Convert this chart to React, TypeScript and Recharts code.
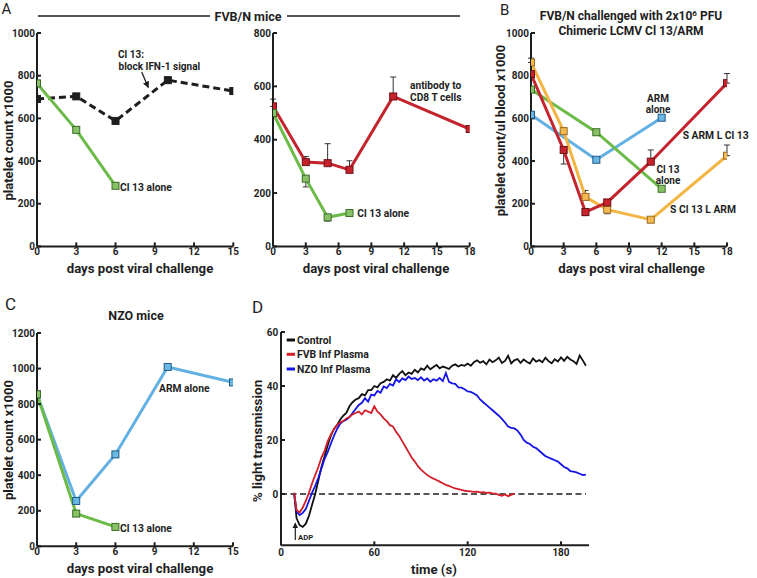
import React from 'react';
import { LineChart, Line, XAxis, YAxis, ErrorBar, ReferenceLine } from 'recharts';

const FONT = 'Roboto, "Liberation Sans", Arial, sans-serif';
const INK = '#1e1e1e';

// ---------- Panel A (left): FVB/N, Cl 13 with IFN-1 block vs Cl 13 alone ----------
const aLeftBlockDays = [0, 3, 6, 10, 15];
const aLeftBlockCounts = [691, 703, 588, 779, 728];
const aLeftCl13Days = [0, 3, 6];
const aLeftCl13Counts = [764, 546, 284];
const aLeftXTicks = [0, 3, 6, 9, 12, 15];
const aLeftYTicks = [0, 200, 400, 600, 800, 1000];

// ---------- Panel A (right): antibody to CD8 T cells vs Cl 13 alone ----------
const aRightCd8Days = [0, 3, 5, 7, 11, 18];
const aRightCd8Counts = [525, 316, 312, 287, 562, 440];
const aRightCd8ErrUp = [27, 21, 73, 34, 73, null];
const aRightCl13Days = [0, 3, 5, 7];
const aRightCl13Counts = [500, 254, 109, 125];
const aRightCl13ErrDown = [null, 31, 14, null];
const aRightXTicks = [0, 3, 6, 9, 12, 15, 18];
const aRightYTicks = [0, 200, 400, 600, 800];

// ---------- Panel B: chimeric LCMV ----------
const bArmDays = [0, 6, 12];
const bArmCounts = [617, 406, 603];
const bCl13Days = [0, 6, 12];
const bCl13Counts = [735, 535, 270];
const bSArmDays = [0, 3, 5, 7, 11, 18];
const bSArmCounts = [808, 452, 161, 206, 397, 765];
const bSArmErrUp = [null, 0, 0, null, 55, 45];
const bSArmErrDown = [null, 66, 17, null, 0, 0];
const bSCl13Days = [0, 3, 5, 7, 11, 18];
const bSCl13Counts = [862, 540, 232, 172, 125, 425];
const bSCl13ErrUp = [20, 15, 30, 0, null, 50];
const bSCl13ErrDown = [0, 0, 0, 19, null, 0];
const bXTicks = [0, 3, 6, 9, 12, 15, 18];
const bYTicks = [0, 200, 400, 600, 800, 1000];

// ---------- Panel C: NZO mice ----------
const cArmDays = [0, 3, 6, 10, 15];
const cArmCounts = [855, 255, 517, 1009, 922];
const cCl13Days = [0, 3, 6];
const cCl13Counts = [855, 184, 109];
const cXTicks = [0, 3, 6, 9, 12, 15];
const cYTicks = [0, 200, 400, 600, 800, 1000, 1200];

// ---------- Panel D: aggregometry ----------
const dTimes = [
  8.5, 10, 12, 14, 16, 18, 20, 22, 24, 26,
  28, 30, 32, 34, 36, 38, 40, 42, 44, 46,
  48, 50, 52, 54, 56, 58, 60, 62, 64, 66,
  68, 70, 72, 74, 76, 78, 80, 82, 84, 86,
  88, 90, 92, 94, 96, 98, 100, 102, 104, 106,
  108, 110, 112, 114, 116, 118, 120, 122, 124, 126,
  128, 130, 132, 134, 136, 138, 140, 142, 144, 146,
  148, 150, 152, 154, 156, 158, 160, 162, 164, 166,
  168, 170, 172, 174, 176, 178, 180, 182, 184, 186,
  188, 190, 192, 194, 196,
];
const dControl = [
  0, -9, -11.5, -12.2, -11, -8, -4, 0, 5, 10,
  14, 18, 21.5, 24, 25.5, 27.5, 29, 30, 32.5, 34,
  35, 35.5, 37, 36.5, 38.5, 38.5, 40, 39.5, 41, 41.5,
  42.5, 42, 44, 43, 44.5, 45.5, 44, 45, 44.5, 46,
  45, 46.5, 46, 47.5, 46.2, 47, 47.8, 46.5, 47.2, 46.8,
  46.3, 47.5, 48, 47.2, 47.8, 47.5, 48.3, 47.5, 48.8, 49.5,
  48.6, 49.2, 48, 49.8, 48.8, 49.5, 50.5, 48.5, 49.3, 51.2,
  48.4, 49.5, 50, 48.6, 49.8, 49, 48.3, 50.2, 49, 49.6,
  48.8, 50.5, 49.2, 48.4, 49.9, 49.1, 50.6, 49.3, 50.8, 49.8,
  49.2, 48.2, 51.3, 49.5, 47.5,
];
const dNzo = [
  0, -6.5, -7.8, -7, -5.5, -2.5, 0.5, 3, 6, 9.5,
  13, 15.5, 18.5, 21.5, 24, 26, 27, 27.5, 28.5, 30,
  31.5, 33, 33.8, 35.5, 34.2, 36.8, 36.5, 38.2, 37.5, 39.8,
  39.2, 40.8, 40.2, 42.5, 41.5, 42.8, 42.2, 43.5, 42.6, 43,
  42.2, 43.2, 42, 42.8, 41.6, 42.5, 42, 43, 41.8, 44.8,
  41.5, 41, 40.8, 39.5, 39.4, 38.8, 38, 37.8, 37.2, 36.5,
  35, 34, 33, 32, 31, 30, 29, 27.8, 26.5, 25,
  24.5, 24.3, 23.5, 22, 20, 19, 18.5, 17.5, 17, 16,
  15, 14, 13.5, 13, 12.5, 12, 11, 10, 9.5, 8.5,
  8.3, 8, 7.5, 7, 7.2,
];
const dFvb = [
  0.5, -6, -6.8, -5, -2.5, 0.5, 4, 7, 10, 13.5,
  16, 19.5, 22, 24, 25.5, 26.5, 27, 28, 28.5, 29.5,
  30, 30.5, 29.5, 31, 30.5, 30, 32.5, 30.5, 29.5, 28,
  27, 25.5, 25, 23, 21.5, 19.5, 17.5, 15.5, 13.5, 12,
  10.3, 9, 8, 7, 6.3, 5.7, 5.2, 4.6, 4, 3.4,
  3, 2.5, 2.1, 1.8, 1.5, 1.2, 1.1, 1, 0.8, 0.9,
  0.6, 0.7, 0.4, 0.5, 0.2, 0.1, -0.3, -0.7, -0.2, -0.8,
  -0.3, 0.2,
];
const dXTicks = [0, 60, 120, 180];
const dYTicks = [0, 20, 40, 60];

// ---------- helpers ----------
type Pt = { x: number; y: number; err?: [number, number] | null };
const zip = (xs: number[], ys: number[], up?: (number | null)[], down?: (number | null)[]): Pt[] =>
  xs.map((x, i) => {
    const u = up ? up[i] : null;
    const d = down ? down[i] : null;
    const hasErr = (u !== null && u !== undefined) || (d !== null && d !== undefined);
    return { x, y: ys[i], err: hasErr ? [d ?? 0, u ?? 0] : null };
  });

const squareDot = (fill: string, stroke: string, size = 7) => (props: any) => {
  const { cx, cy, index } = props;
  if (cx == null || cy == null) return <g key={`e${index}`} />;
  return (
    <rect key={`s${index}`} x={cx - size / 2} y={cy - size / 2} width={size} height={size}
      fill={fill} stroke={stroke} strokeWidth={1} />
  );
};

const axisStyle = { stroke: INK, strokeWidth: 2 };
const tickStyle = { fontSize: 10, fill: INK, fontFamily: FONT, fontWeight: 700 };

const PAD_L = 45, PAD_T = 12, PAD_R = 14, PAD_B = 24;

function Panel({ rect, xDomain, xTicks, yDomain, yTicks, xTickMargin = 6, yTickMargin = 6, children }: any) {
  const [x0, y0, x1, y1] = rect;
  return (
    <div style={{ position: 'absolute', left: x0 - PAD_L, top: y0 - PAD_T }}>
      <LineChart width={x1 - x0 + PAD_L + PAD_R} height={y1 - y0 + PAD_T + PAD_B}
        margin={{ top: PAD_T, right: PAD_R, bottom: 0, left: 0 }}>
        <XAxis type="number" dataKey="x" domain={xDomain} ticks={xTicks} interval={0}
          height={PAD_B} tickSize={-4} tickMargin={xTickMargin} axisLine={axisStyle} tickLine={axisStyle}
          tick={tickStyle} allowDataOverflow />
        <YAxis type="number" domain={yDomain} ticks={yTicks} interval={0} width={PAD_L}
          tickSize={-4} tickMargin={yTickMargin} axisLine={axisStyle} tickLine={axisStyle}
          tick={tickStyle} allowDataOverflow />
        {children}
      </LineChart>
    </div>
  );
}

const GREEN = '#6cbb48', GREEN_F = '#86c265', GREEN_S = '#3c6b28';
const RED = '#c4242d', RED_F = '#c8232c', RED_S = '#6e1015';
const BLUE = '#62b1e2', BLUE_F = '#6ab7e6', BLUE_S = '#1f5b86';
const ORANGE = '#f3b544', ORANGE_F = '#f4b950', ORANGE_S = '#9a6a24';

const errProps = { dataKey: 'err', width: 3, stroke: '#333', strokeWidth: 1, direction: 'y' as const };

export default function App() {
  const aLeftBlock = zip(aLeftBlockDays, aLeftBlockCounts);
  const aLeftCl13 = zip(aLeftCl13Days, aLeftCl13Counts);
  const aRightCd8 = zip(aRightCd8Days, aRightCd8Counts, aRightCd8ErrUp, undefined);
  const aRightCl13 = zip(aRightCl13Days, aRightCl13Counts, undefined, aRightCl13ErrDown);
  const bArm = zip(bArmDays, bArmCounts);
  const bCl13 = zip(bCl13Days, bCl13Counts);
  const bSArm = zip(bSArmDays, bSArmCounts, bSArmErrUp, bSArmErrDown);
  const bSCl13 = zip(bSCl13Days, bSCl13Counts, bSCl13ErrUp, bSCl13ErrDown);
  const cArm = zip(cArmDays, cArmCounts);
  const cCl13 = zip(cCl13Days, cCl13Counts);
  const dCtrl = zip(dTimes, dControl);
  const dN = zip(dTimes, dNzo);
  const dF = zip(dTimes.slice(0, dFvb.length), dFvb);

  const txt = { fontFamily: FONT, fill: INK } as const;

  return (
    <div style={{ position: 'absolute', left: 0, top: 0, width: 757, height: 578, background: '#fff', overflow: 'hidden' }}>
      {/* A left */}
      <Panel rect={[37, 33.3, 233.3, 246.7]} xDomain={[0, 15]} xTicks={aLeftXTicks} yDomain={[0, 1000]} yTicks={aLeftYTicks}>
        <Line data={aLeftBlock} dataKey="y" stroke={INK} strokeWidth={3} strokeDasharray="7 4"
          dot={squareDot(INK, INK)} isAnimationActive={false} />
        <Line data={aLeftCl13} dataKey="y" stroke={GREEN} strokeWidth={3}
          dot={squareDot(GREEN_F, GREEN_S)} isAnimationActive={false} />
      </Panel>

      {/* A right */}
      <Panel rect={[273.3, 33.3, 470, 246.7]} xDomain={[0, 18]} xTicks={aRightXTicks} yDomain={[0, 800]} yTicks={aRightYTicks}>
        <Line data={aRightCd8} dataKey="y" stroke={RED} strokeWidth={3}
          dot={squareDot(RED_F, RED_S)} isAnimationActive={false}>
          <ErrorBar {...errProps} />
        </Line>
        <Line data={aRightCl13} dataKey="y" stroke={GREEN} strokeWidth={3}
          dot={squareDot(GREEN_F, GREEN_S)} isAnimationActive={false}>
          <ErrorBar {...errProps} />
        </Line>
      </Panel>

      {/* B */}
      <Panel rect={[531, 33.3, 727, 246.7]} xDomain={[0, 18]} xTicks={bXTicks} yDomain={[0, 1000]} yTicks={bYTicks}>
        <Line data={bArm} dataKey="y" stroke={BLUE} strokeWidth={3}
          dot={squareDot(BLUE_F, BLUE_S)} isAnimationActive={false} />
        <Line data={bCl13} dataKey="y" stroke={GREEN} strokeWidth={3}
          dot={squareDot(GREEN_F, GREEN_S)} isAnimationActive={false} />
        <Line data={bSCl13} dataKey="y" stroke={ORANGE} strokeWidth={3}
          dot={squareDot(ORANGE_F, ORANGE_S)} isAnimationActive={false}>
          <ErrorBar {...errProps} />
        </Line>
        <Line data={bSArm} dataKey="y" stroke={RED} strokeWidth={3}
          dot={squareDot(RED_F, RED_S)} isAnimationActive={false}>
          <ErrorBar {...errProps} />
        </Line>
      </Panel>

      {/* C */}
      <Panel rect={[37.3, 332.7, 233.3, 546]} xDomain={[0, 15]} xTicks={cXTicks} yDomain={[0, 1200]} yTicks={cYTicks}>
        <Line data={cArm} dataKey="y" stroke={BLUE} strokeWidth={3}
          dot={squareDot(BLUE_F, BLUE_S)} isAnimationActive={false} />
        <Line data={cCl13} dataKey="y" stroke={GREEN} strokeWidth={3}
          dot={squareDot(GREEN_F, GREEN_S)} isAnimationActive={false} />
      </Panel>

      {/* D */}
      <Panel rect={[281, 332, 589, 545.3]} xDomain={[0, 198]} xTicks={dXTicks} yDomain={[-19, 60]} yTicks={dYTicks}
        xTickMargin={8} yTickMargin={6.7}>
        <ReferenceLine segment={[{ x: 0, y: 0 }, { x: 196, y: 0 }]} stroke={INK} strokeWidth={1.6} strokeDasharray="6 3.5" />
        <Line data={dCtrl} dataKey="y" stroke="#111" strokeWidth={1.8} dot={false} isAnimationActive={false} />
        <Line data={dN} dataKey="y" stroke="#1414e6" strokeWidth={1.8} dot={false} isAnimationActive={false} />
        <Line data={dF} dataKey="y" stroke="#d4202a" strokeWidth={1.8} dot={false} isAnimationActive={false} />
      </Panel>

      {/* Text overlay */}
      <svg width={757} height={578} style={{ position: 'absolute', left: 0, top: 0, pointerEvents: 'none' }}>
        <defs>
          <marker id="ah" viewBox="0 0 10 10" refX="9" refY="5" markerWidth="5" markerHeight="5" orient="auto-start-reverse">
            <path d="M0,0 L10,5 L0,10 z" fill={INK} />
          </marker>
        </defs>
        {/* panel letters */}
        <text x={1.5} y={14} fontSize={15} {...txt}>A</text>
        <text x={500} y={15} fontSize={15} {...txt}>B</text>
        <text x={5} y={310} fontSize={17} {...txt}>C</text>
        <text x={252} y={312.7} fontSize={17} {...txt}>D</text>

        {/* A header */}
        <line x1={38} y1={16} x2={210} y2={16} stroke={INK} strokeWidth={1.6} />
        <line x1={287} y1={16} x2={460} y2={16} stroke={INK} strokeWidth={1.6} />
        <text x={248} y={20.5} fontSize={12.5} fontWeight={700} textAnchor="middle" {...txt}>FVB/N mice</text>

        {/* B header */}
        <text x={631} y={20} fontSize={12} fontWeight={700} textAnchor="middle" {...txt}>
          FVB/N challenged with 2x10<tspan dy={-4} fontSize={8}>6</tspan><tspan dy={4}> PFU</tspan>
        </text>
        <text x={631} y={35} fontSize={12} fontWeight={700} textAnchor="middle" {...txt}>Chimeric LCMV Cl 13/ARM</text>

        {/* C header */}
        <text x={136} y={320} fontSize={12.5} fontWeight={700} textAnchor="middle" {...txt}>NZO mice</text>

        {/* axis titles */}
        <text x={140} y={273} fontSize={13.2} fontWeight={700} textAnchor="middle" {...txt}>days post viral challenge</text>
        <text x={376} y={273} fontSize={13.2} fontWeight={700} textAnchor="middle" {...txt}>days post viral challenge</text>
        <text x={631.5} y={272.7} fontSize={13.2} fontWeight={700} textAnchor="middle" {...txt}>days post viral challenge</text>
        <text x={140} y={573.3} fontSize={13.2} fontWeight={700} textAnchor="middle" {...txt}>days post viral challenge</text>
        <text x={434} y={574} fontSize={13.2} fontWeight={700} textAnchor="middle" {...txt}>time (s)</text>

        <text transform="translate(12.5,140.5) rotate(-90)" fontSize={13} fontWeight={700} textAnchor="middle" {...txt}>platelet count x1000</text>
        <text transform="translate(505,130.5) rotate(-90)" fontSize={13} fontWeight={700} textAnchor="middle" {...txt}>platelet count/ul blood x1000</text>
        <text transform="translate(12.5,440) rotate(-90)" fontSize={13} fontWeight={700} textAnchor="middle" {...txt}>platelet count x1000</text>
        <text transform="translate(262,441) rotate(-90)" fontSize={13.5} fontWeight={700} textAnchor="middle" {...txt}>% light transmission</text>

        {/* A left annotations */}
        <text x={118} y={58} fontSize={10} fontWeight={700} {...txt}>Cl 13:</text>
        <text x={118.5} y={69.5} fontSize={10} fontWeight={700} {...txt}>block IFN-1 signal</text>
        <line x1={141.7} y1={72} x2={148.3} y2={87.5} stroke={INK} strokeWidth={1.3} markerEnd="url(#ah)" />
        <text x={120} y={190.5} fontSize={10.3} fontWeight={700} {...txt}>Cl 13 alone</text>

        {/* A right annotations */}
        <text x={410} y={89} fontSize={10.2} fontWeight={700} {...txt}>antibody to</text>
        <text x={410} y={100.5} fontSize={10.2} fontWeight={700} {...txt}>CD8 T cells</text>
        <text x={357.3} y={217} fontSize={10.3} fontWeight={700} {...txt}>Cl 13 alone</text>

        {/* B annotations */}
        <text x={658} y={101.5} fontSize={10} fontWeight={700} textAnchor="middle" {...txt}>ARM</text>
        <text x={658} y={112.5} fontSize={10} fontWeight={700} textAnchor="middle" {...txt}>alone</text>
        <text x={682.7} y={139} fontSize={10.3} fontWeight={700} {...txt}>S ARM L Cl 13</text>
        <text x={668} y={172.5} fontSize={10} fontWeight={700} textAnchor="middle" {...txt}>Cl 13</text>
        <text x={668} y={184} fontSize={10} fontWeight={700} textAnchor="middle" {...txt}>alone</text>
        <text x={670} y={213} fontSize={10.3} fontWeight={700} {...txt}>S Cl 13 L ARM</text>

        {/* C annotations */}
        <text x={159} y={391.7} fontSize={10.3} fontWeight={700} {...txt}>ARM alone</text>
        <text x={120} y={531.7} fontSize={10.3} fontWeight={700} {...txt}>Cl 13 alone</text>

        {/* D legend */}
        <line x1={286.7} y1={340} x2={295} y2={340} stroke="#111" strokeWidth={3} />
        <line x1={286.7} y1={354.3} x2={295} y2={354.3} stroke="#d4202a" strokeWidth={3} />
        <line x1={286.7} y1={369} x2={295} y2={369} stroke="#1414e6" strokeWidth={3} />
        <text x={297} y={344} fontSize={10.4} fontWeight={700} {...txt}>Control</text>
        <text x={297} y={358.3} fontSize={10.4} fontWeight={700} {...txt}>FVB Inf Plasma</text>
        <text x={297} y={372.7} fontSize={10.4} fontWeight={700} {...txt}>NZO Inf Plasma</text>

        {/* ADP marker */}
        <line x1={295.3} y1={540} x2={295.3} y2={523} stroke={INK} strokeWidth={1.2} markerEnd="url(#ah)" />
        <text x={298} y={540} fontSize={7.7} fontWeight={700} {...txt}>ADP</text>
      </svg>
    </div>
  );
}
